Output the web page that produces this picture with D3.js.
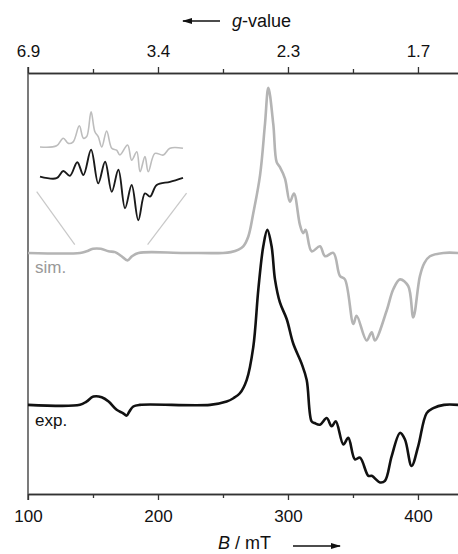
<!DOCTYPE html>
<html>
<head>
<meta charset="utf-8">
<style>
  body { margin: 0; background: #fff; }
  svg { display: block; font-family: Arial, 'Liberation Sans', sans-serif; }
</style>
</head>
<body>
<svg id="chart" width="458" height="554"></svg>
<script src="https://cdn.jsdelivr.net/npm/d3@7"></script>
<script>
/* global d3 */

//------ data (B in mT, intensity in arb. units) ------//
const bTicks = [100, 200, 300, 400]
const bMinorTicks = [150, 250, 350]
const gTickLabels = ['6.9', '3.4', '2.3', '1.7']

const simSpectrum = [
  [100, 0], [140, 0], [145, 0.01], [150, 0.025], [156, 0.025], [162, 0.01], [167, 0.005],
  [172, -0.02], [176.5, -0.045], [180, -0.02], [185, 0], [220, 0], [250, 0], [256, 0.005],
  [262, 0.02], [265.6, 0.04], [269.5, 0.1], [273.3, 0.24], [278.5, 0.47], [282.3, 0.78],
  [284.9, 1.0], [288.7, 0.78], [291.3, 0.55], [293.8, 0.52], [297.7, 0.45], [301.5, 0.31],
  [304.6, 0.36], [309.2, 0.17], [311.7, 0.12], [313.6, 0.14], [318.2, 0.01], [324.6, 0.04],
  [328.5, -0.02], [334.9, 0], [340, -0.14], [343.8, -0.16], [350.3, -0.43], [352.8, -0.38],
  [360.5, -0.53], [364.4, -0.48], [366.9, -0.53], [375.9, -0.35], [381, -0.22], [386.2, -0.16],
  [392.5, -0.2], [396.4, -0.39], [401.5, -0.14], [405, -0.06], [409.2, -0.02], [419.5, 0], [431, 0]
]

const expSpectrum = [
  [100, 0], [140, 0], [145, 0.02], [150.3, 0.05], [156.7, 0.046], [162, 0.02], [168.2, -0.03],
  [173, -0.05], [175.9, -0.065], [178, -0.04], [181, -0.01], [186, 0], [240, 0], [252.8, 0.02],
  [258, 0.04], [263, 0.07], [268.2, 0.15], [273.3, 0.35], [277.2, 0.7], [281, 0.96], [284.1, 1.06],
  [287.4, 0.96], [290, 0.76], [293.8, 0.62], [299, 0.52], [304.1, 0.37], [310.5, 0.25], [314.4, 0.15],
  [318.2, -0.1], [320.5, -0.11], [324.6, -0.12], [329.8, -0.08], [333.6, -0.13], [336.8, -0.1],
  [342.6, -0.24], [346.4, -0.2], [351.5, -0.33], [355.4, -0.32], [361.8, -0.43], [364.4, -0.43],
  [370.8, -0.47], [374.6, -0.46], [379.8, -0.31], [386.2, -0.17], [390, -0.21], [395.1, -0.37],
  [400.2, -0.25], [406.7, -0.05], [411.8, -0.02], [420, 0], [431, 0]
]

// inset: expanded view of the 136-192 mT region
const zoomRange = [136, 192]
const simInset = [
  [136, 0], [142.5, 0.03], [145.1, 0.22], [147.1, 0.09], [149, 0.13], [151.4, 0.53], [153, 0.22],
  [154.3, 0.26], [156, 0.88], [157.5, 0.38], [158.8, 0.26], [160.2, 0], [162.1, 0.4], [164.1, -0.03],
  [166, -0.08], [167.3, -0.2], [170.3, 0.05], [171.9, -0.33], [173.9, -0.12], [175.2, -0.62],
  [177.1, -0.24], [178.4, -0.62], [181, -0.16], [184.3, -0.2], [186.9, -0.03], [192, -0.03]
]
const expInset = [
  [136, 0.01], [142.5, -0.03], [145.1, 0.15], [147.7, 0.03], [150.6, 0.37], [153, 0.05], [156, 0.68],
  [158.8, -0.16], [161.5, 0.38], [164.1, -0.37], [166.7, 0.18], [169.3, -0.78], [171.9, -0.2],
  [174.5, -1.08], [177.1, -0.41], [179.1, -0.49], [181.7, -0.2], [186.9, -0.12], [192, -0.02]
]

const simOffset = 0.92
const expOffset = 0
const simInsetOffset = 0.325
const expInsetOffset = -0.425

//------ layout ------//
const svg = d3.select('#chart')
const x = d3.scaleLinear().domain([100, 430.8]).range([28, 458])
const y = d3.scaleLinear().domain([-0.54, 2.01]).range([494, 73])
const ix = d3.scaleLinear().domain(zoomRange).range([40, 183])
const iy = d3.scaleLinear().domain([-1, 1]).range([200, 120])

const axisColor = '#333'

// bottom axis (majors and minors in their own groups)
svg.append('g').attr('transform', 'translate(0,494)')
  .call(d3.axisBottom(x).tickValues(bTicks).tickSize(6).tickSizeOuter(0).tickPadding(10))
svg.append('g').attr('transform', 'translate(0,494)')
  .call(d3.axisBottom(x).tickValues(bMinorTicks).tickSize(4).tickSizeOuter(0).tickFormat(''))

// top axis (g-values at the same field positions)
svg.append('g').attr('transform', 'translate(0,73)')
  .call(d3.axisTop(x).tickValues(bTicks).tickSize(6).tickSizeOuter(0).tickPadding(10)
    .tickFormat((d, i) => gTickLabels[i]))
svg.append('g').attr('transform', 'translate(0,73)')
  .call(d3.axisTop(x).tickValues(bMinorTicks).tickSize(4).tickSizeOuter(0).tickFormat(''))

svg.selectAll('.domain').attr('stroke', axisColor).attr('stroke-width', 1.3)
svg.selectAll('.tick line').attr('stroke', axisColor).attr('stroke-width', 1.3)
svg.selectAll('.tick text').attr('fill', '#111').style('font-size', '17px')
  .style('font-family', "Arial, 'Liberation Sans', sans-serif")

// left axis line
svg.append('line')
  .attr('x1', x(100)).attr('x2', x(100))
  .attr('y1', 67).attr('y2', 500)
  .attr('stroke', axisColor).attr('stroke-width', 1.3)

// axis titles with arrows
svg.append('defs').append('marker')
  .attr('id', 'head').attr('viewBox', '0 0 10 6')
  .attr('refX', 9).attr('refY', 3)
  .attr('markerWidth', 10).attr('markerHeight', 6)
  .attr('markerUnits', 'userSpaceOnUse').attr('orient', 'auto')
  .append('path').attr('d', 'M0,0L10,3L0,6Z').attr('fill', '#111')

svg.append('line')
  .attr('x1', 220).attr('x2', 183).attr('y1', 21).attr('y2', 21)
  .attr('stroke', '#111').attr('stroke-width', 1.3).attr('marker-end', 'url(#head)')
const gTitle = svg.append('text').attr('x', 232).attr('y', 27)
  .style('font-size', '18px').attr('fill', '#111')
gTitle.append('tspan').style('font-style', 'italic').text('g')
gTitle.append('tspan').text('-value')

svg.append('line')
  .attr('x1', 293).attr('x2', 340).attr('y1', 546).attr('y2', 546)
  .attr('stroke', '#111').attr('stroke-width', 1.3).attr('marker-end', 'url(#head)')
const bTitle = svg.append('text').attr('x', 218).attr('y', 549)
  .style('font-size', '18px').attr('fill', '#111')
bTitle.append('tspan').style('font-style', 'italic').text('B')
bTitle.append('tspan').text(' / mT')

//------ spectra ------//
const line = (sx, sy, off) => d3.line()
  .x(d => sx(d[0]))
  .y(d => sy(d[1] + off))
  .curve(d3.curveCatmullRom.alpha(0.5))

svg.append('path').datum(simSpectrum)
  .attr('d', line(x, y, simOffset))
  .attr('fill', 'none').attr('stroke', '#b4b4b4').attr('stroke-width', 2.6)
  .attr('stroke-linejoin', 'round')

svg.append('path').datum(expSpectrum)
  .attr('d', line(x, y, expOffset))
  .attr('fill', 'none').attr('stroke', '#111').attr('stroke-width', 2.6)
  .attr('stroke-linejoin', 'round')

svg.append('text').attr('x', 35).attr('y', 273).text('sim.')
  .style('font-size', '17px').attr('fill', '#999')
svg.append('text').attr('x', 35).attr('y', 426).text('exp.')
  .style('font-size', '17px').attr('fill', '#111')

//------ inset ------//
// guide lines from the expanded region on the sim trace to the inset
svg.append('line')
  .attr('x1', x(zoomRange[0])).attr('y1', y(simOffset + 0.05))
  .attr('x2', ix(134.7)).attr('y2', iy(-0.79))
  .attr('stroke', '#c8c8c8').attr('stroke-width', 1.2)
svg.append('line')
  .attr('x1', x(zoomRange[1])).attr('y1', y(simOffset + 0.05))
  .attr('x2', ix(193.4)).attr('y2', iy(-0.83))
  .attr('stroke', '#c8c8c8').attr('stroke-width', 1.2)

svg.append('path').datum(simInset)
  .attr('d', line(ix, iy, simInsetOffset))
  .attr('fill', 'none').attr('stroke', '#bdbdbd').attr('stroke-width', 1.6)
  .attr('stroke-linejoin', 'round')

svg.append('path').datum(expInset)
  .attr('d', line(ix, iy, expInsetOffset))
  .attr('fill', 'none').attr('stroke', '#1a1a1a').attr('stroke-width', 1.9)
  .attr('stroke-linejoin', 'round')
</script>
</body>
</html>
